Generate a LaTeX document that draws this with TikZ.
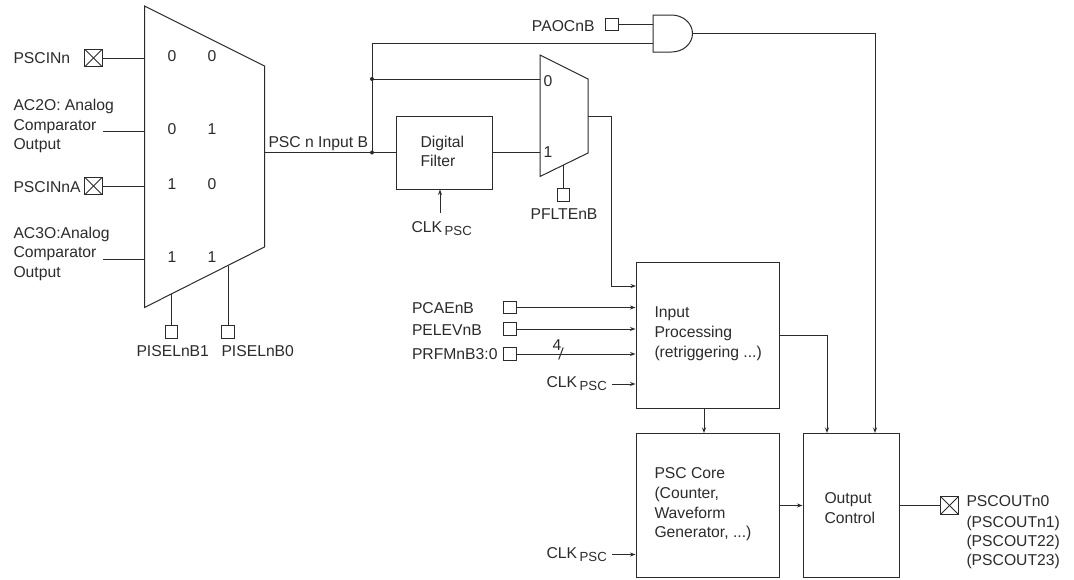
\documentclass[tikz,border=0pt]{standalone}
\usepackage{fontspec}
\setmainfont{Liberation Sans}
\usetikzlibrary{arrows.meta}
\definecolor{ink}{HTML}{2B2B2B}
\newcommand{\clkpsc}{CLK\,\raisebox{-3pt}{\fontsize{13.2}{15}\selectfont PSC}}
\tikzset{
  x=1pt,y=-1pt,
  every path/.style={line width=1pt,color=ink},
  lbl/.style={inner sep=0pt,anchor=base west,text=ink,font=\fontsize{15.7}{18}\selectfont},
  lblr/.style={lbl,anchor=base east},
  lblc/.style={lbl,anchor=base},
  pin/.style={draw=ink,rectangle,inner sep=0pt,minimum size=12.5pt},
  xpin/.style={pin,minimum size=17.5pt,path picture={
    \draw (path picture bounding box.south west)--(path picture bounding box.north east);
    \draw (path picture bounding box.north west)--(path picture bounding box.south east);}},
  blk/.style={draw=ink,rectangle,inner sep=0pt},
  arr/.style={-{Stealth[length=5.5pt,width=4pt]}},
  dot/.style={circle,fill=ink,inner sep=0pt,minimum size=4pt},
}
\begin{document}
\begin{tikzpicture}
\path[use as bounding box] (0,0) rectangle (1074,579);
% main mux
\coordinate (mA) at (144.5,6); \coordinate (mB) at (264.5,66);
\coordinate (mC) at (264.5,247); \coordinate (mD) at (144.5,307.5);
\draw[line join=miter] (mA)--(mB)--(mC)--(mD)--cycle;
% small mux
\coordinate (sA) at (540,55); \coordinate (sB) at (588,79);
\coordinate (sC) at (588,153); \coordinate (sD) at (540,176.5);
\draw (sA)--(sB)--(sC)--(sD)--cycle;
% input pins
\node[xpin] (pin1) at (93.5,58) {};
\node[xpin] (pin2) at (93.5,186) {};
\coordinate (ac2) at (103,131);
\coordinate (ac3) at (103,259);
\draw (pin1.east)--(pin1.east-|mA);
\draw (pin2.east)--(pin2.east-|mA);
\draw (ac2)--(ac2-|mA);
\draw (ac3)--(ac3-|mA);
\node[lbl] (t1) at (13,63) {PSCINn};
\node[lbl] (t2a) at (13,110) {AC2O: Analog};
\node[lbl] (t2b) at (13,130) {Comparator};
\node[lbl] (t2c) at (13,149) {Output};
\node[lbl] (t3) at (13,192) {PSCINnA};
\node[lbl] (t4a) at (13,238) {AC3O:Analog};
\node[lbl] (t4b) at (13,257) {Comparator};
\node[lbl] (t4c) at (13,277) {Output};
\foreach \n/\xx/\yy/\s in {a/172/61/0,b/212/61/0,c/172/134/0,d/212/134/1,e/172/189/1,f/212/189/0,g/172/262/1,h/212/262/1}
  \node[lblc] (num\n) at (\xx,\yy) {\s};
% select pins
\node[pin] (sel1) at (171.5,332) {};
\node[pin] (sel0) at (228,332) {};
\coordinate (sel1t) at (171.5,294);
\coordinate (sel0t) at (228,266);
\draw (sel1t)--(sel1.north);
\draw (sel0t)--(sel0.north);
\node[lbl] (t5) at (136,356) {PISELnB1};
\node[lbl] (t6) at (221,356) {PISELnB0};
% output of main mux
\node[blk,minimum width=96pt,minimum height=73pt] (df) at (444,152.5) {};
\node[lbl] (t7) at (420,147) {Digital};
\node[lbl] (t8) at (420,166) {Filter};
\coordinate (mout) at (264.5,152.5);
\node[lbl] (t9) at (268,147) {PSC n Input B};
\draw (mout)--(df.west);
\node[dot] (d1) at (372,152.5) {};
\node[dot] (d2) at (372,79) {};
\draw (d1.center)--(d2.center);
\draw (d2.center)--(d2-|sA);
\draw (df.east)--(df.east-|sA);
\node[lbl] (t10) at (543,86) {0};
\node[lbl] (t11) at (543,157) {1};
% filter clock
\coordinate (fclk) at (440,213);
\draw[arr] (fclk)--(fclk|-df.south);
\node[lbl] (t12) at (411,232) {\clkpsc};
% PFLTE
\node[pin] (pf) at (563.5,195) {};
\coordinate (pft) at (563.5,165);
\draw (pft)--(pf.north);
\node[lblc] (t13) at (564,219) {PFLTEnB};
% AND
\coordinate (aT) at (653,15); \coordinate (aB) at (653,52);
\draw (aT)--(671.5,15) arc[start angle=90,end angle=-90,x radius=21pt,y radius=18.5pt]--(aB)--cycle;
\coordinate (aO) at (692.5,33.5);
\node[pin] (pao) at (612,24.5) {};
\draw (pao.east)--(pao.east-|aT);
\node[lblr] (t14) at (595,31) {PAOCnB};
\coordinate (a2) at (653,43);
\draw (d2.center)--(d2|-a2)--(a2);
% boxes
\node[blk,minimum width=143pt,minimum height=146.5pt] (ip) at (707.5,335.25) {};
\node[blk,minimum width=143pt,minimum height=144pt] (core) at (707.5,505.5) {};
\node[blk,minimum width=96pt,minimum height=144pt] (oc) at (851,505.5) {};
\node[lbl] (t15) at (654,317) {Input};
\node[lbl] (t16) at (654,337) {Processing};
\node[lbl] (t17) at (654,357) {(retriggering ...)};
\node[lbl] (t18) at (654,478) {PSC Core};
\node[lbl] (t19) at (654,498) {(Counter,};
\node[lbl] (t20) at (654,518) {Waveform};
\node[lbl] (t21) at (654,537) {Generator, ...)};
\node[lbl] (t22) at (824,503) {Output};
\node[lbl] (t23) at (824,523) {Control};
% connectors
\coordinate (smout) at (588,116);
\coordinate (bend) at (611,116);
\coordinate (ipin) at (636,286);
\draw[arr] (smout)--(bend)--(bend|-ipin)--(ipin);
\coordinate (andout) at (875,33.5);
\draw[arr] (aO)--(andout)--(andout|-oc.north);
\coordinate (ipo) at (779,335);
\coordinate (ocin) at (827,335);
\draw[arr] (ipo)--(ocin)--(ocin|-oc.north);
\coordinate (ipb) at (704,408.5);
\draw[arr] (ipb)--(ipb|-core.north);
\draw[arr] (core.east)--(oc.west);
% input proc pins
\node[pin] (p1) at (510,307.5) {};
\node[pin] (p2) at (510,329) {};
\node[pin] (p3) at (510,354) {};
\draw[arr] (p1.east)--(p1.east-|ip.west);
\draw[arr] (p2.east)--(p2.east-|ip.west);
\draw[arr] (p3.east)--(p3.east-|ip.west);
\node[lbl] (t24) at (411.5,313) {PCAEnB};
\node[lbl] (t25) at (411.5,335) {PELEVnB};
\node[lbl] (t26) at (411.5,359) {PRFMnB3:0};
\node[lbl] (t27) at (552,350) {4};
\coordinate (sl1) at (558.7,359.5); \coordinate (sl2) at (563.2,347.5);
\draw (sl1)--(sl2);
\node[lbl] (t28) at (546,387) {\clkpsc};
\coordinate (c1) at (612,384);
\draw[arr] (c1)--(c1-|ip.west);
\node[lbl] (t29) at (546,558) {\clkpsc};
\coordinate (c2) at (612,554.5);
\draw[arr] (c2)--(c2-|core.west);
% output
\node[xpin] (po) at (949.5,505.5) {};
\draw (oc.east)--(po.west);
\node[lbl] (t30) at (966,506) {PSCOUTn0};
\node[lbl] (t31) at (966,527) {(PSCOUTn1)};
\node[lbl] (t32) at (966,546) {(PSCOUT22)};
\node[lbl] (t33) at (966,565) {(PSCOUT23)};
\end{tikzpicture}
\end{document}
